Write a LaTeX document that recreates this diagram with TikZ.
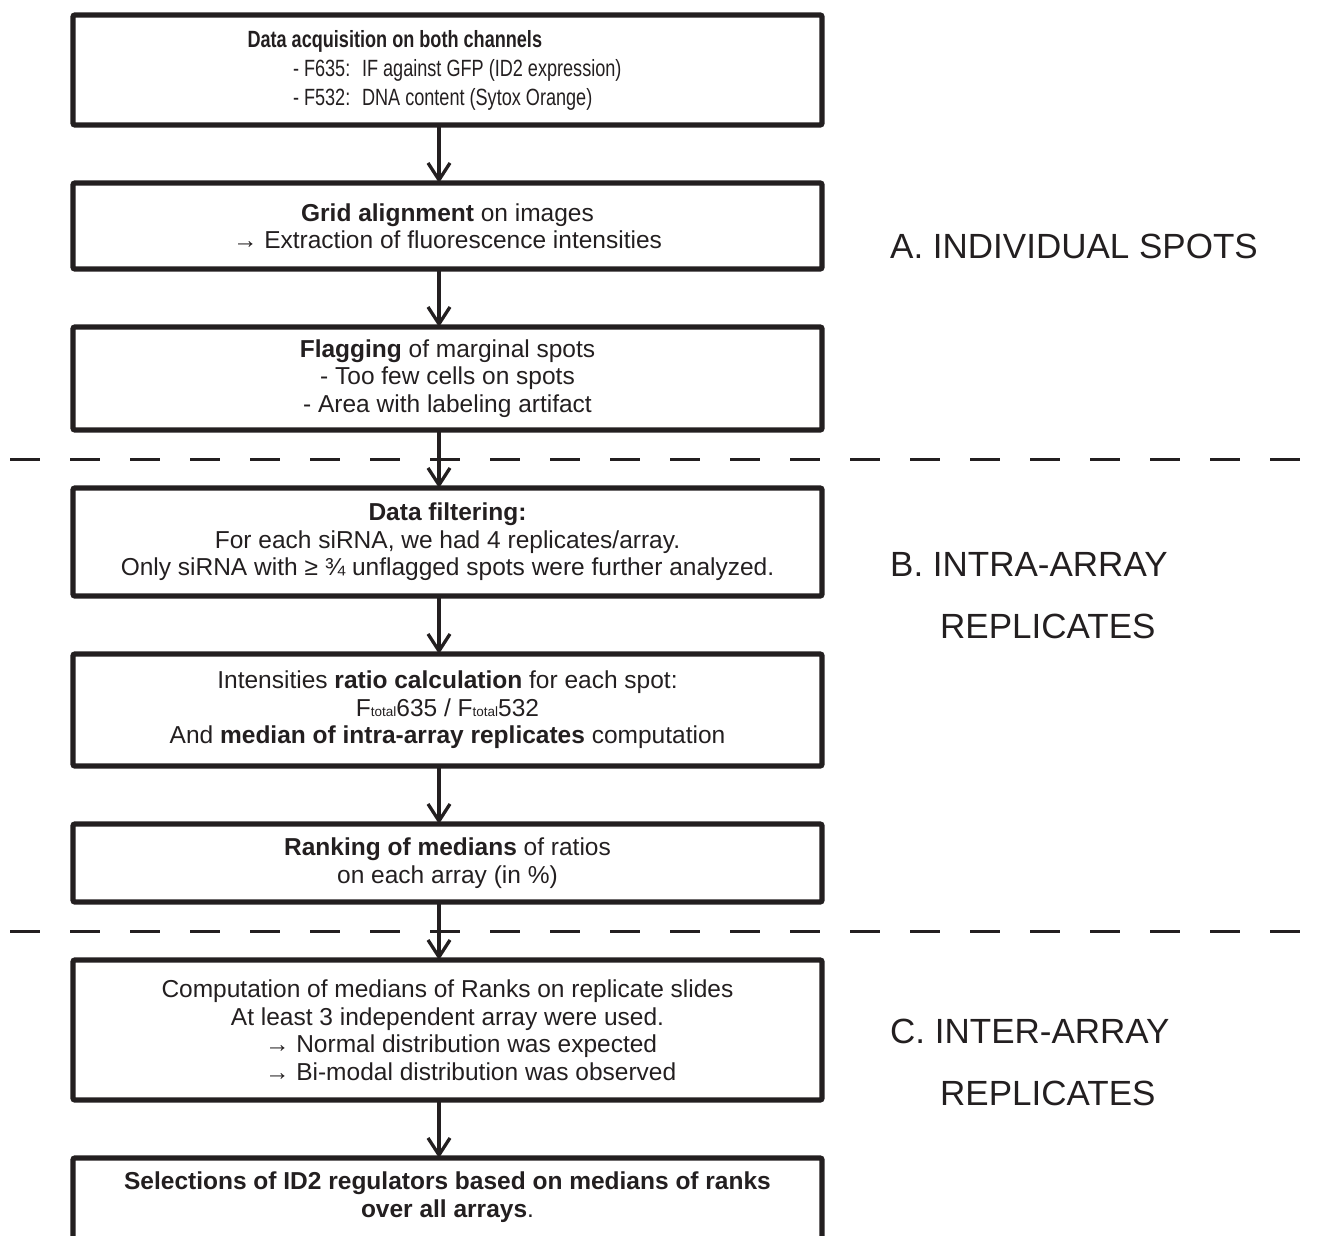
\documentclass[tikz,border=0pt]{standalone}
\usepackage{fontspec}
\setmainfont{Liberation Sans}
\newfontfamily\narrowsans[FakeStretch=0.77]{Liberation Sans}
\usetikzlibrary{arrows.meta, positioning, calc}
\definecolor{ink}{RGB}{35,31,32}
\newcommand{\ftot}{F{\fontsize{13.5}{13.5}\selectfont total}}

\begin{document}
\begin{tikzpicture}[x=1pt, y=-1pt, node distance=58pt,
  stage/.style={rectangle, draw=ink, line width=5.3pt, rounded corners=2pt, minimum width=749pt, align=center, inner sep=0pt, outer sep=0pt, font=\fontsize{24.5}{27.5}\selectfont, text=ink},
  part/.style={anchor=base west, inner sep=0pt, font=\fontsize{35}{42}\selectfont, text=ink},
  split/.style={draw=ink, line width=3pt, dash pattern=on 30pt off 30pt},
  flow/.style={draw=ink, line width=3.3pt, -{Straight Barb[length=17pt,width=22pt]}}]
\clip (0,0) rectangle (1331,1236);
% A. individual spots
\node[stage, minimum height=110pt, font=\narrowsans\fontsize{23.5}{29}\selectfont] (acq) at (447.5,70) {\makebox[400pt][l]{\textbf{Data acquisition on both channels}}\\
  \makebox[400pt][l]{\hspace*{45.5pt}- F635:~ IF against GFP (ID2 expression)}\\
  \makebox[400pt][l]{\hspace*{45.5pt}- F532:~ DNA content (Sytox Orange)}};
\node[stage, minimum height=86pt, below=of acq] (grid) {\textbf{Grid alignment} on images\\ → Extraction of fluorescence intensities};
\node[stage, minimum height=103pt, below=of grid] (flag) {\textbf{Flagging} of marginal spots\\ - Too few cells on spots\\ - Area with labeling artifact};
% B. intra-array replicates
\node[stage, minimum height=108pt, below=of flag] (filt) {\textbf{Data filtering:}\\ For each siRNA, we had 4 replicates/array.\\ Only siRNA with ≥ ¾ unflagged spots were further analyzed.};
\node[stage, minimum height=112pt, below=of filt] (ratio) {Intensities \textbf{ratio calculation} for each spot:\\ \ftot635 / \ftot532\\ And \textbf{median of intra-array replicates} computation};
\node[stage, minimum height=78pt, below=of ratio] (rank) {\textbf{Ranking of medians} of ratios\\ on each array (in \%)};
% C. inter-array replicates
\node[stage, minimum height=140pt, below=of rank] (medrank) {Computation of medians of Ranks on replicate slides\\ At least 3 independent array were used.\\
  \makebox[440pt][l]{\hspace*{37.5pt}→ Normal distribution was expected}\\
  \makebox[440pt][l]{\hspace*{37.5pt}→ Bi-modal distribution was observed}};
\node[stage, draw=none, minimum height=78pt, below=of medrank] (select) {\textbf{Selections of ID2 regulators based on medians of ranks}\\ \textbf{over all arrays}.};
% open at the bottom edge
\draw[ink, line width=5.3pt, rounded corners=2pt] (select.south west) |- (select.north) -| (select.south east);

\coordinate (cutA) at ($(flag.south)!0.5!(filt.north)$);
\coordinate (cutB) at ($(rank.south)!0.5!(medrank.north)$);
\draw[split] ([xshift=-437.5pt]cutA) -- ([xshift=857.5pt]cutA);
\draw[split] ([xshift=-437.5pt]cutB) -- ([xshift=857.5pt]cutB);

\foreach \a/\b in {acq/grid, grid/flag, flag/filt, filt/ratio, ratio/rank, rank/medrank, medrank/select}
  \draw[flow] ([xshift=-8.5pt]\a.south) -- ([xshift=-8.5pt]\b.north);

\node[part] (labA) at (890,258) {A. INDIVIDUAL SPOTS};
\node[part] (labB) at (890,576) {B. INTRA-ARRAY};
\node[part] (labBb) at (940,638) {REPLICATES};
\node[part] (labC) at (890,1043) {C. INTER-ARRAY};
\node[part] (labCc) at (940,1105) {REPLICATES};
\end{tikzpicture}
\end{document}
